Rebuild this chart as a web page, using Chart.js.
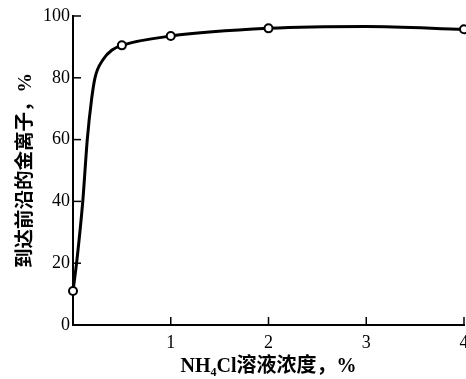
<!DOCTYPE html>
<html>
<head>
<meta charset="utf-8">
<script src="https://cdn.jsdelivr.net/npm/chart.js@4"></script>
<style>
  html, body { margin: 0; padding: 0; background: #fff; }
  #wrap { width: 466px; height: 379px; }
</style>
</head>
<body>
<div id="wrap"><canvas id="chart" width="466" height="379"></canvas></div>
<script>
// measured points (open circles)
const concX = [0, 0.5, 1, 2, 4];
const ionsY = [11, 90.5, 93.5, 96, 95.7];

// drawn curve
const curveX = [0, 0.04, 0.1, 0.146, 0.19, 0.225, 0.31, 0.4, 0.5, 1, 2, 3, 4];
const curveY = [11, 21, 40, 60, 73, 80, 86, 89, 90.5, 93.5, 96, 96.6, 95.7];

const xTicks = [1, 2, 3, 4];
const yTicks = [0, 20, 40, 60, 80, 100];

const serif = '"Liberation Serif", "DejaVu Serif", serif';
const cjk = '"Liberation Serif", "Noto Sans CJK SC", serif';

// short tick marks pointing into the plot, like the printed figure
const innerTicks = {
  id: 'innerTicks',
  afterDraw(chart) {
    const c = chart.ctx, xs = chart.scales.x, ys = chart.scales.y;
    c.save();
    c.strokeStyle = '#000';
    c.lineWidth = 1.5;
    yTicks.forEach(v => {
      const py = ys.getPixelForValue(v);
      c.beginPath(); c.moveTo(xs.left, py); c.lineTo(xs.left + 8, py); c.stroke();
    });
    xTicks.forEach(v => {
      const px = xs.getPixelForValue(v);
      c.beginPath(); c.moveTo(px, ys.bottom); c.lineTo(px, ys.bottom - 8); c.stroke();
    });
    c.restore();
  }
};

new Chart(document.getElementById('chart'), {
  type: 'scatter',
  data: {
    datasets: [
      {
        type: 'line',
        data: curveX.map((x, i) => ({ x: x, y: curveY[i] })),
        borderColor: '#000',
        borderWidth: 3,
        pointRadius: 0,
        cubicInterpolationMode: 'monotone',
        fill: false,
        order: 2
      },
      {
        data: concX.map((x, i) => ({ x: x, y: ionsY[i] })),
        pointRadius: 4,
        pointBorderWidth: 2,
        pointBorderColor: '#000',
        pointBackgroundColor: '#fff',
        clip: false,
        order: 1
      }
    ]
  },
  options: {
    responsive: false,
    animation: false,
    layout: { autoPadding: false, padding: { top: 16, right: 2, left: 0, bottom: 0 } },
    plugins: { legend: { display: false }, tooltip: { enabled: false } },
    scales: {
      x: {
        type: 'linear',
        min: 0,
        max: 4,
        afterFit: s => { s.height = 54; s.paddingLeft = 0; s.paddingRight = 0; },
        grid: { display: false, drawTicks: false },
        border: { display: true, color: '#000', width: 2 },
        ticks: {
          stepSize: 1,
          color: '#000',
          padding: 7,
          font: { family: serif, size: 18 },
          callback: v => (v === 0 ? '' : v)
        },
        title: {
          display: true,
          text: 'NH₄Cl溶液浓度，%',
          color: '#000',
          font: { family: cjk, size: 20, weight: 'bold' },
          padding: { top: 0, bottom: 0 }
        }
      },
      y: {
        min: 0,
        max: 100,
        afterFit: s => { s.width = 73; },
        grid: { display: false, drawTicks: false },
        border: { display: true, color: '#000', width: 2 },
        ticks: {
          stepSize: 20,
          color: '#000',
          padding: 3,
          font: { family: serif, size: 18 }
        },
        title: {
          display: true,
          text: '到达前沿的金离子，%',
          color: '#000',
          font: { family: cjk, size: 19.5, weight: 'bold' },
          padding: { top: 14, bottom: 0 }
        }
      }
    }
  },
  plugins: [innerTicks]
});
</script>
</body>
</html>
